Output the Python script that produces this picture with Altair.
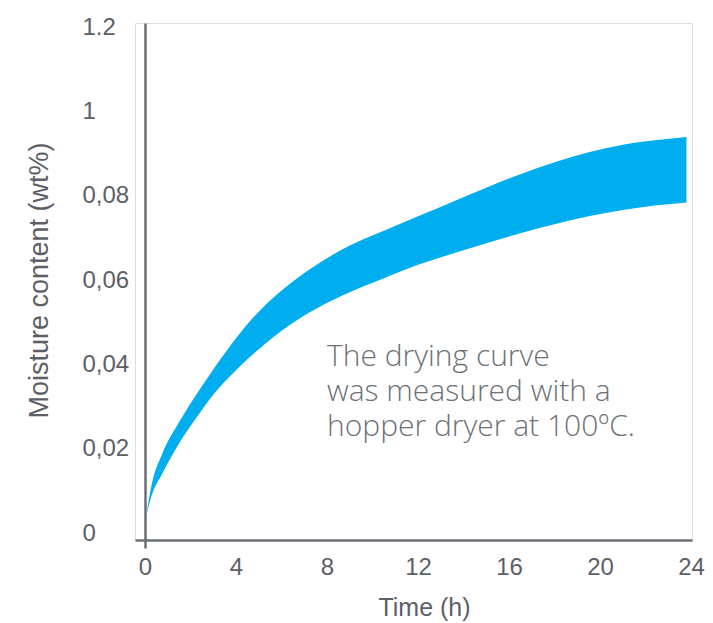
import altair as alt
import pandas as pd

# Drying band (hours, moisture wt%)
hours = [0.05, 0.3, 0.75, 1.5, 2.25, 3, 4, 5, 6.3, 7.8, 9, 10.5, 12, 13.5, 15, 16.5, 18, 19.5, 21, 22.5, 23.8]
upper = [0.0040, 0.0117, 0.0187, 0.0263, 0.0328, 0.0388, 0.0462, 0.0525, 0.0588, 0.0645, 0.0682,
         0.0717, 0.0751, 0.0785, 0.0819, 0.0851, 0.0879, 0.0903, 0.0921, 0.0932, 0.0939]
lower = [0.0040, 0.0090, 0.0140, 0.0213, 0.0273, 0.0328, 0.0386, 0.0436, 0.0491, 0.0540, 0.0571,
         0.0604, 0.0636, 0.0662, 0.0687, 0.0711, 0.0732, 0.0751, 0.0766, 0.0777, 0.0784]

x_ticks = [0, 4, 8, 12, 16, 20, 24]
y_ticks = [0, 0.02, 0.04, 0.06, 0.08, 0.10, 0.12]
y_labels = ["0", "0,02", "0,04", "0,06", "0,08", "1", "1.2"]

note_lines = ["The drying curve", "was measured with a", "hopper dryer at 100ºC."]
note_x = [8.0]
note_y = [0.0396]

band = pd.DataFrame({"t": hours, "hi": upper, "lo": lower})
notes = pd.DataFrame({"t": note_x, "v": note_y, "txt": ["\n".join(note_lines)]})

AXIS = "#6b6f75"
LABEL = "#5c6066"
FONT = "Liberation Sans"

label_expr = "[" + ",".join("'%s'" % s for s in y_labels) + "][round(datum.value / 0.02)]"

xscale = alt.Scale(domain=[-0.44, 24.044], nice=False, zero=False)
yscale = alt.Scale(domain=[-0.00166, 0.12095], nice=False, zero=False)

xaxis = alt.Axis(
    values=x_ticks, grid=False, title="Time (h)",
    domainColor=AXIS, domainWidth=2.5,
    tickColor={"condition": {"test": "datum.value === 0", "value": AXIS}, "value": "transparent"},
    tickSize=8, tickWidth=2.5,
    labelFont=FONT, labelFontSize=24, labelColor=LABEL, labelPadding=7,
    titleFont=FONT, titleFontSize=25, titleColor=LABEL, titleFontWeight="normal",
    titleX=289, titleY=67, titleBaseline="middle", titleAnchor="start", titleAlign="center",
)
yaxis = alt.Axis(
    values=y_ticks, grid=False, title="Moisture content (wt%)",
    offset=-10, labelExpr=label_expr,
    domainColor=AXIS, domainWidth=2.5, ticks=False, tickSize=0,
    labelFont=FONT, labelFontSize=24, labelColor=LABEL, labelAlign="left",
    labelPadding=63, labelBaseline="middle",
    titleFont=FONT, titleFontSize=27, titleColor=LABEL, titleFontWeight="normal",
    titleAngle=270, titleX=-106, titleY=257, titleAlign="center", titleBaseline="middle",
)

area = alt.Chart(band).mark_area(color="#00aeef", interpolate="monotone").encode(
    x=alt.X("t:Q", scale=xscale, axis=xaxis),
    y=alt.Y("hi:Q", scale=yscale, axis=yaxis),
    y2="lo:Q",
)

text = alt.Chart(notes).mark_text(
    align="left", baseline="alphabetic", font="Open Sans", fontSize=30,
    fontWeight=300, color="#6d7177", lineBreak="\n", lineHeight=35,
).encode(
    x=alt.X("t:Q", scale=xscale),
    y=alt.Y("v:Q", scale=yscale),
    text="txt:N",
)

chart = alt.layer(area, text).properties(
    width=557, height=517,
    autosize=alt.AutoSizeParams(type="none"),
    padding={"left": 127, "top": 15, "right": 13, "bottom": 83},
).configure_view(stroke=None).configure(background="white")

chart.save("out.html", embed_options={"renderer": "svg", "actions": False})
